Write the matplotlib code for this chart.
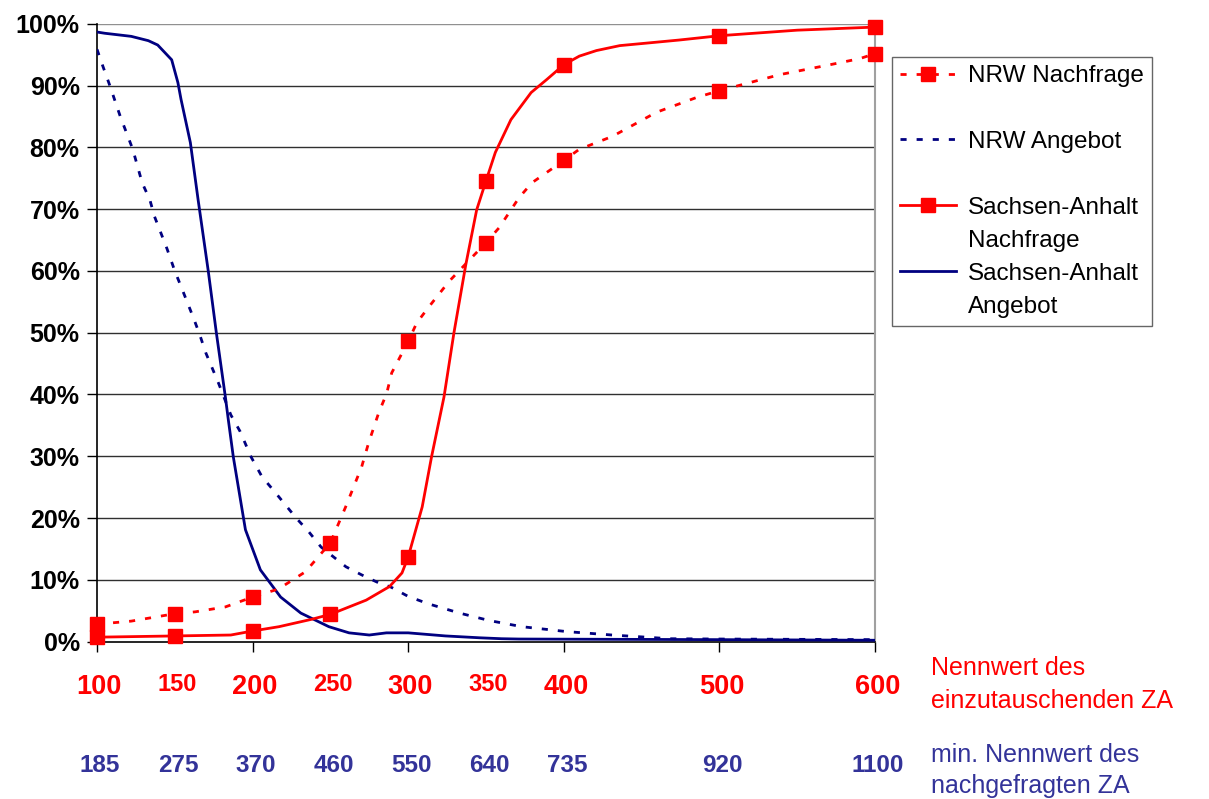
import matplotlib
matplotlib.use("Agg")
import matplotlib.pyplot as plt
import matplotlib.transforms as mtransforms
from matplotlib.lines import Line2D

plt.rcParams['font.family'] = ['Liberation Sans', 'DejaVu Sans']

# ---- data (percent) ----
nrw_nach_x = [100, 122, 150, 163, 182.5, 200, 216.6, 234, 250, 259.8, 270.1, 274.6, 281, 286.2,
              289.4, 300, 305.5, 313.3, 326.2, 334.5, 350, 358.4, 371.3, 379.6, 400, 409.9,
              431.2, 459.5, 485.3, 500, 538.8, 571, 590.3, 600]
nrw_nach_y = [2.8, 3.3, 4.5, 4.8, 5.6, 7.2, 8.5, 11.3, 16.0, 21.8, 28.3, 32.2, 37.0, 40.2,
              43.5, 48.6, 51.6, 54.2, 58.3, 60.5, 64.6, 67.0, 71.9, 74.3, 77.9, 79.7,
              81.8, 85.7, 88.1, 89.2, 91.8, 93.4, 94.4, 95.2]

nrw_ang_x = [100, 104, 108, 115, 123, 129, 134, 137, 145, 150, 154, 162, 166, 170, 178, 186,
             192, 199, 206, 215, 228, 236, 244, 260, 270, 281, 289, 300, 313, 333, 352, 373,
             402, 431, 453, 468, 500, 600]
nrw_ang_y = [95.9, 93.0, 90.2, 85.0, 79.7, 74.3, 71.5, 68.8, 63.6, 60.0, 57.5, 52.4, 49.7, 46.7,
             41.9, 36.7, 34.0, 29.9, 26.7, 24.0, 20.0, 17.8, 15.3, 12.1, 10.8, 9.5, 8.8, 7.3,
             6.1, 4.6, 3.4, 2.4, 1.6, 1.05, 0.7, 0.45, 0.4, 0.3]

sa_nach_x = [100, 150, 186, 200, 217, 238, 250, 273, 288, 296, 300, 309, 315, 323, 329.4, 337,
             344, 350, 356, 366, 379, 389, 400, 410, 421, 436, 453, 474, 500, 550, 600]
sa_nach_y = [0.7, 0.9, 1.05, 1.7, 2.4, 3.6, 4.4, 6.7, 8.9, 11.1, 13.7, 21.8, 29.9, 39.6, 50.0, 61.0,
             69.9, 74.6, 79.2, 84.5, 88.9, 91.0, 93.4, 94.8, 95.7, 96.5, 96.9, 97.4, 98.1, 99.0, 99.5]

sa_ang_x = [100, 105, 122, 133, 139, 148, 152, 154, 160, 165, 171.5, 176.7, 182.5, 184.4, 187.6,
            195.4, 205, 218, 231, 249, 262, 275, 286, 300, 324, 346, 360, 371, 500, 600]
sa_ang_y = [98.7, 98.5, 98.0, 97.3, 96.6, 94.2, 90.5, 87.8, 80.8, 71.5, 60.0, 50.0, 39.6, 35.9, 29.9,
            18.1, 11.6, 7.2, 4.6, 2.4, 1.4, 1.05, 1.4, 1.4, 0.9, 0.6, 0.45, 0.4, 0.3, 0.2]

marker_x = [100, 150, 200, 250, 300, 350, 400, 500, 600]

label_pos = [100, 150, 200, 250, 300, 350, 400, 500, 600]
red_labels = ['100', '150', '200', '250', '300', '350', '400', '500', '600']
red_small = [False, True, False, True, False, True, False, False, False]
blue_labels = ['185', '275', '370', '460', '550', '640', '735', '920', '1100']

y_ticks = list(range(0, 101, 10))
y_ticklabels = [f'{v}%' for v in y_ticks]

series_names = ['NRW Nachfrage', 'NRW Angebot', 'Sachsen-Anhalt\nNachfrage', 'Sachsen-Anhalt\nAngebot']
axis_note_red = ['Nennwert des', 'einzutauschenden ZA']
axis_note_blue = ['min. Nennwert des', 'nachgefragten ZA']

RED = '#FF0000'
NAVY = '#000080'
BLUE_TXT = '#333399'

fig = plt.figure(figsize=(12.09, 7.99), dpi=100)
ax = fig.add_axes([97/1209, 1 - 641.5/799, (875-97)/1209, (641.5-24)/799])

def mk_idx(xs):
    return [i for i, v in enumerate(xs) if v in marker_x]

lw = 2.0
ms = 9.5
dash = (0, (2.2, 3.6))
l1, = ax.plot(nrw_nach_x, nrw_nach_y, color=RED, lw=lw, linestyle=dash,
              marker='s', markersize=ms, markevery=mk_idx(nrw_nach_x),
              markerfacecolor=RED, markeredgecolor=RED, zorder=4, clip_on=False)
l2, = ax.plot(nrw_ang_x, nrw_ang_y, color=NAVY, lw=lw, linestyle=dash, zorder=3)
l3, = ax.plot(sa_nach_x, sa_nach_y, color=RED, lw=lw, linestyle='-',
              marker='s', markersize=ms, markevery=mk_idx(sa_nach_x),
              markerfacecolor=RED, markeredgecolor=RED, zorder=4, clip_on=False)
l4, = ax.plot(sa_ang_x, sa_ang_y, color=NAVY, lw=lw, linestyle='-', zorder=3)

ax.set_xlim(100, 600)
ax.set_ylim(0, 100)
ax.set_yticks(y_ticks)
ax.set_yticklabels(y_ticklabels, fontsize=18, fontweight='bold')
ax.set_xticks([100, 200, 300, 400, 500, 600])
ax.set_xticklabels([])
ax.tick_params(axis='both', direction='out', length=7, width=1, color='black')
ax.tick_params(axis='y', pad=5.5)

for y in y_ticks[1:]:
    ax.axhline(y, color='#909090' if y == 100 else '#303030', lw=1.0, zorder=1)

ax.spines['top'].set_visible(False)
ax.spines['right'].set_color('#A0A0A0')
ax.spines['right'].set_linewidth(1.5)
ax.spines['left'].set_color('black')
ax.spines['bottom'].set_color('black')
ax.spines['left'].set_linewidth(1.2)
ax.spines['bottom'].set_linewidth(1.2)

trans = mtransforms.blended_transform_factory(ax.transData, fig.transFigure)
for xp, lab, small in zip(label_pos, red_labels, red_small):
    ax.text(xp + 1.5, 1 - (691 if small else 694)/799, lab, transform=trans, color=RED,
            fontsize=17 if small else 19.5, fontweight='bold', ha='center', va='baseline',
            clip_on=False)
for xp, lab in zip(label_pos, blue_labels):
    ax.text(xp + 2, 1 - 771.5/799, lab, transform=trans, color=BLUE_TXT,
            fontsize=17.5, fontweight='bold', ha='center', va='baseline', clip_on=False)

fig.text(931/1209, 1 - 675/799, axis_note_red[0], color=RED, fontsize=18, ha='left', va='baseline')
fig.text(931/1209, 1 - 708.5/799, axis_note_red[1], color=RED, fontsize=18, ha='left', va='baseline')
fig.text(931/1209, 1 - 761.5/799, axis_note_blue[0], color=BLUE_TXT, fontsize=18, ha='left', va='baseline')
fig.text(931/1209, 1 - 793/799, axis_note_blue[1], color=BLUE_TXT, fontsize=18, ha='left', va='baseline')

# legend: handles aligned with the first line of two-line labels
blank = Line2D([], [], linestyle='none')
h_list, lab_list = [], []
for handle, name in zip([l1, l2, l3, l4], series_names):
    parts = name.split('\n')
    h_list.append(handle)
    lab_list.append(parts[0])
    h_list.append(blank)
    lab_list.append(parts[1] if len(parts) > 1 else ' ')
leg = fig.legend(h_list, lab_list, loc='upper left',
                 bbox_to_anchor=(892/1209, 1 - 57/799), fontsize=17.5,
                 frameon=True, fancybox=False, edgecolor='#404040',
                 handlelength=2.3, handletextpad=0.5, labelspacing=0.45,
                 borderpad=0.33, borderaxespad=0)
leg.get_frame().set_linewidth(1.0)

fig.savefig('out.png', dpi=100)
